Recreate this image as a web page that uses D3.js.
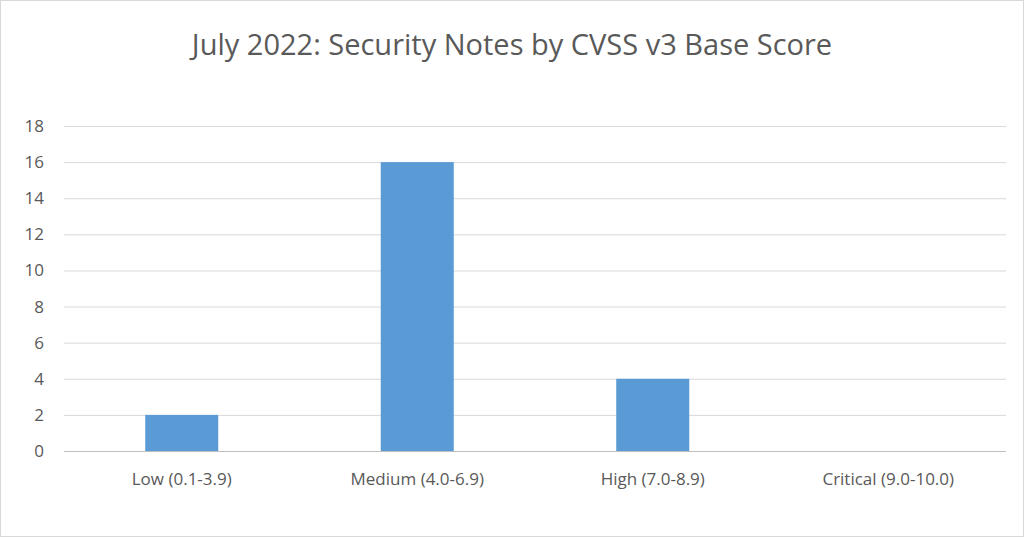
<!DOCTYPE html>
<html>
<head>
<meta charset="utf-8">
<script src="https://cdn.jsdelivr.net/npm/d3@7"></script>
<style>
  body { margin: 0; background: #fff; }
  text { font-family: "Open Sans", "Liberation Sans", sans-serif; fill: #595959; }
</style>
</head>
<body>
<svg id="chart" width="1024" height="537"></svg>
<script>
var categories = ["Low (0.1-3.9)", "Medium (4.0-6.9)", "High (7.0-8.9)", "Critical (9.0-10.0)"];
var values = [2, 16, 4, 0];
var yTicks = [0, 2, 4, 6, 8, 10, 12, 14, 16, 18];

var svg = d3.select("#chart");
var margin = {left: 64, right: 18, top: 126, bottom: 86};
var w = 1024 - margin.left - margin.right,
  h = 537 - margin.top - margin.bottom;

svg.append("rect")
  .attr("x", 0.5).attr("y", 0.5).attr("width", 1023).attr("height", 536)
  .attr("fill", "#fff").attr("stroke", "#d9d9d9");

svg.append("text")
  .attr("x", 512).attr("y", 55)
  .attr("text-anchor", "middle")
  .style("font-size", "29px")
  .text("July 2022: Security Notes by CVSS v3 Base Score");

var g = svg.append("g").attr("transform", "translate(" + margin.left + "," + margin.top + ")");

var x = d3.scaleBand().domain(categories).range([0, w]).paddingInner(0.69).paddingOuter(0.345);
var y = d3.scaleLinear().domain([0, 18]).range([h, 0]);

g.selectAll(".grid").data(yTicks).enter().append("line")
  .attr("x1", 0).attr("x2", w)
  .attr("y1", function(d) { return y(d) + 0.5; })
  .attr("y2", function(d) { return y(d) + 0.5; })
  .attr("stroke", function(d) { return d === 0 ? "#bfbfbf" : "#d9d9d9"; });

g.selectAll(".ylab").data(yTicks).enter().append("text")
  .attr("x", -20).attr("y", function(d) { return y(d); })
  .attr("dy", "0.35em").attr("text-anchor", "end")
  .style("font-size", "17px")
  .text(function(d) { return d; });

g.selectAll(".bar").data(values).enter().append("rect")
  .attr("x", function(d, i) { return x(categories[i]); })
  .attr("width", x.bandwidth())
  .attr("y", function(d) { return y(d); })
  .attr("height", function(d) { return h - y(d); })
  .attr("fill", "#5b9bd5");

g.selectAll(".xlab").data(categories).enter().append("text")
  .attr("x", function(d) { return x(d) + x.bandwidth() / 2; })
  .attr("y", h + 34)
  .attr("text-anchor", "middle")
  .style("font-size", "17px")
  .text(function(d) { return d; });
</script>
</body>
</html>
